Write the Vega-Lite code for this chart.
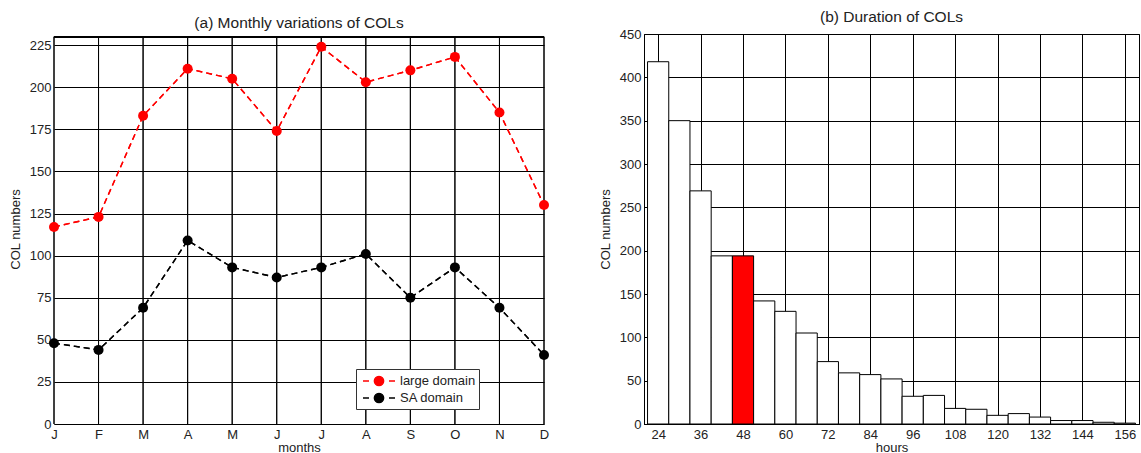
{
  "$schema": "https://vega.github.io/schema/vega-lite/v6.json",
  "background": "white",
  "padding": {"left": 9, "top": 9, "right": 1, "bottom": 0},
  "config": {
    "font": "Liberation Sans",
    "view": {"stroke": "black", "strokeWidth": 1},
    "axis": {
      "gridColor": "black", "gridOpacity": 1, "gridWidth": 1,
      "domainColor": "black", "ticks": false,
      "labelColor": "#222", "labelFontSize": 13, "titleFontSize": 13,
      "titleFontWeight": "normal", "titleColor": "#222",
      "labelFont": "Liberation Sans", "titleFont": "Liberation Sans"
    },
    "axisX": {"labelPadding": 4, "titlePadding": 0},
    "axisY": {"labelPadding": 3, "titlePadding": 7},
    "title": {"fontSize": 15.5, "fontWeight": "normal", "font": "Liberation Sans", "color": "#222"},
    "concat": {"spacing": 49}
  },
  "hconcat": [
    {
      "title": {"text": "(a) Monthly variations of COLs", "offset": 3},
      "width": 490,
      "height": 390,
      "view": {"stroke": null},
      "data": {
        "values": [
          {"month": 1, "domain": "large domain", "count": 117},
          {"month": 2, "domain": "large domain", "count": 123},
          {"month": 3, "domain": "large domain", "count": 183},
          {"month": 4, "domain": "large domain", "count": 211},
          {"month": 5, "domain": "large domain", "count": 205},
          {"month": 6, "domain": "large domain", "count": 174},
          {"month": 7, "domain": "large domain", "count": 224},
          {"month": 8, "domain": "large domain", "count": 203},
          {"month": 9, "domain": "large domain", "count": 210},
          {"month": 10, "domain": "large domain", "count": 218},
          {"month": 11, "domain": "large domain", "count": 185},
          {"month": 12, "domain": "large domain", "count": 130},
          {"month": 1, "domain": "SA domain", "count": 48},
          {"month": 2, "domain": "SA domain", "count": 44},
          {"month": 3, "domain": "SA domain", "count": 69},
          {"month": 4, "domain": "SA domain", "count": 109},
          {"month": 5, "domain": "SA domain", "count": 93},
          {"month": 6, "domain": "SA domain", "count": 87},
          {"month": 7, "domain": "SA domain", "count": 93},
          {"month": 8, "domain": "SA domain", "count": 101},
          {"month": 9, "domain": "SA domain", "count": 75},
          {"month": 10, "domain": "SA domain", "count": 93},
          {"month": 11, "domain": "SA domain", "count": 69},
          {"month": 12, "domain": "SA domain", "count": 41}
        ]
      },
      "layer": [
        {
          "mark": {"type": "line", "strokeDash": [6, 4], "strokeWidth": 1.4},
          "encoding": {
            "x": {
              "field": "month", "type": "quantitative",
              "scale": {"domain": [1, 12], "nice": false, "zero": false},
              "axis": {
                "values": [1, 2, 3, 4, 5, 6, 7, 8, 9, 10, 11, 12],
                "labelExpr": "['J','F','M','A','M','J','J','A','S','O','N','D'][datum.value - 1]",
                "title": "months", "labelFlush": false, "grid": false
              }
            },
            "y": {
              "field": "count", "type": "quantitative",
              "scale": {"domain": [0, 231.6], "nice": false},
              "axis": {
                "values": [0, 25, 50, 75, 100, 125, 150, 175, 200, 225],
                "title": "COL numbers", "domain": false
              }
            },
            "color": {
              "field": "domain", "type": "nominal",
              "scale": {"domain": ["large domain", "SA domain"], "range": ["#ff0000", "#000000"]},
              "legend": {
                "orient": "none", "legendX": 302, "legendY": 335,
                "title": null, "strokeColor": "#333", "fillColor": "white",
                "padding": 3, "labelFontSize": 13, "labelColor": "#222",
                "symbolType": "M-0.625,0L0.125,0M2.625,0L3.375,0M1.965,0A0.59,0.59,0,1,1,0.785,0A0.59,0.59,0,1,1,1.965,0Z",
                "symbolSize": 256, "symbolStrokeWidth": 1.3, "symbolOpacity": 1,
                "rowPadding": 0, "labelOffset": 23
              }
            }
          }
        },
        {
          "mark": {"type": "rule", "color": "black", "strokeWidth": 1},
          "encoding": {
            "x": {"field": "month", "type": "quantitative"},
            "y": {"datum": 0},
            "y2": {"datum": 230}
          }
        },
        {
          "mark": {"type": "rule", "color": "black", "strokeWidth": 1},
          "encoding": {
            "y": {"datum": 230}
          }
        },
        {
          "mark": {"type": "line", "strokeDash": [6, 4], "strokeWidth": 1.4},
          "encoding": {
            "x": {"field": "month", "type": "quantitative"},
            "y": {"field": "count", "type": "quantitative"},
            "color": {"field": "domain", "type": "nominal"}
          }
        },
        {
          "mark": {"type": "point", "filled": true, "size": 100, "opacity": 1},
          "encoding": {
            "x": {"field": "month", "type": "quantitative"},
            "y": {"field": "count", "type": "quantitative"},
            "color": {"field": "domain", "type": "nominal"}
          }
        }
      ]
    },
    {
      "title": {"text": "(b) Duration of COLs", "offset": 3},
      "width": 495,
      "height": 390,
      "data": {
        "values": [
          {"from": 21, "to": 27, "count": 418},
          {"from": 27, "to": 33, "count": 350},
          {"from": 33, "to": 39, "count": 269},
          {"from": 39, "to": 45, "count": 194},
          {"from": 45, "to": 51, "count": 194},
          {"from": 51, "to": 57, "count": 142},
          {"from": 57, "to": 63, "count": 130},
          {"from": 63, "to": 69, "count": 105},
          {"from": 69, "to": 75, "count": 72},
          {"from": 75, "to": 81, "count": 59},
          {"from": 81, "to": 87, "count": 57},
          {"from": 87, "to": 93, "count": 52},
          {"from": 93, "to": 99, "count": 32},
          {"from": 99, "to": 105, "count": 33},
          {"from": 105, "to": 111, "count": 18},
          {"from": 111, "to": 117, "count": 17},
          {"from": 117, "to": 123, "count": 10},
          {"from": 123, "to": 129, "count": 12},
          {"from": 129, "to": 135, "count": 8},
          {"from": 135, "to": 141, "count": 4},
          {"from": 141, "to": 147, "count": 4},
          {"from": 147, "to": 153, "count": 2},
          {"from": 153, "to": 159, "count": 1}
        ]
      },
      "mark": {"type": "bar", "stroke": "black", "strokeWidth": 1},
      "encoding": {
        "x": {
          "field": "from", "type": "quantitative",
          "scale": {"domain": [20, 160], "nice": false, "zero": false},
          "axis": {
            "values": [24, 36, 48, 60, 72, 84, 96, 108, 120, 132, 144, 156],
            "title": "hours", "labelFlush": false
          }
        },
        "x2": {"field": "to"},
        "y": {
          "field": "count", "type": "quantitative",
          "scale": {"domain": [0, 450], "nice": false},
          "axis": {
            "values": [0, 50, 100, 150, 200, 250, 300, 350, 400, 450],
            "title": "COL numbers"
          }
        },
        "y2": {"datum": 0},
        "fill": {
          "condition": {"test": "datum.from == 45", "value": "#ff0000"},
          "value": "white"
        }
      }
    }
  ]
}
